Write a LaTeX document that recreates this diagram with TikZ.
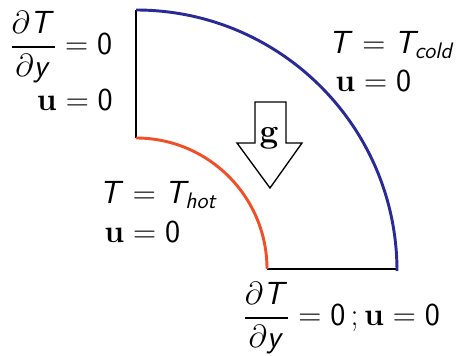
\RequirePackage{fix-cm}
\documentclass[tikz,border=0pt]{standalone}
\usepackage{amsmath}
\DeclareMathAlphabet{\msi}{OT1}{cmss}{m}{sl}
\DeclareMathAlphabet{\msu}{OT1}{cmss}{m}{n}
\DeclareMathAlphabet{\mbu}{OT1}{cmr}{bx}{n}
\newcommand{\bu}{\mbu{u}}
\definecolor{coldblue}{RGB}{42,42,150}
\definecolor{hotred}{RGB}{240,80,40}
\tikzset{
  lbl/.style={inner sep=0pt, font=\fontsize{24}{29}\selectfont},
  wall/.style={line width=2.2pt},
}
\begin{document}
\begin{tikzpicture}[x=0.75pt,y=0.75pt]
\useasboundingbox (0,0) rectangle (457,356);
\coordinate (c) at (136,87);
\coordinate (ot) at (136,346);
\coordinate (or) at (397,87);
\coordinate (it) at (136,218);
\coordinate (ir) at (267,87);
% walls
\draw[wall] (ot) -- (it);
\draw[wall] (ir) -- (or);
\draw[wall,coldblue] (ot) arc[start angle=90,end angle=0,radius=261];
\draw[wall,hotred] (it) arc[start angle=90,end angle=0,radius=131];
% gravity arrow
\draw[line width=1pt,line join=miter] (255,254) -- (286,254) -- (286,213) -- (302,213) -- (270,168) -- (237,213) -- (255,213) -- cycle;
\node[inner sep=0pt,font=\fontsize{25}{30}\selectfont\bfseries] (g) at (269,218) {g};
% labels
\node[lbl] (l1) at (61,309) {$\dfrac{\partial \msi{T}}{\partial \msi{y}}=\msu{0}$};
\node[lbl,anchor=east] (l2) at (113,256) {$\bu=\msu{0}$};
\node[lbl,anchor=east] (r1) at (455,311) {$\msi{T}=\msi{T}_{\msi{cold}}$};
\node[lbl,anchor=west] (r2) at (335,275) {$\bu=\msu{0}$};
\node[lbl,anchor=west] (h1) at (99,161) {$\msi{T}=\msi{T}_{\msi{hot}}$};
\node[lbl,anchor=west] (h2) at (104,124) {$\bu=\msu{0}$};
\node[lbl,anchor=west] (b1) at (243,38) {$\dfrac{\partial \msi{T}}{\partial \msi{y}}=\msu{0}\,;\bu=\msu{0}$};
\end{tikzpicture}
\end{document}
